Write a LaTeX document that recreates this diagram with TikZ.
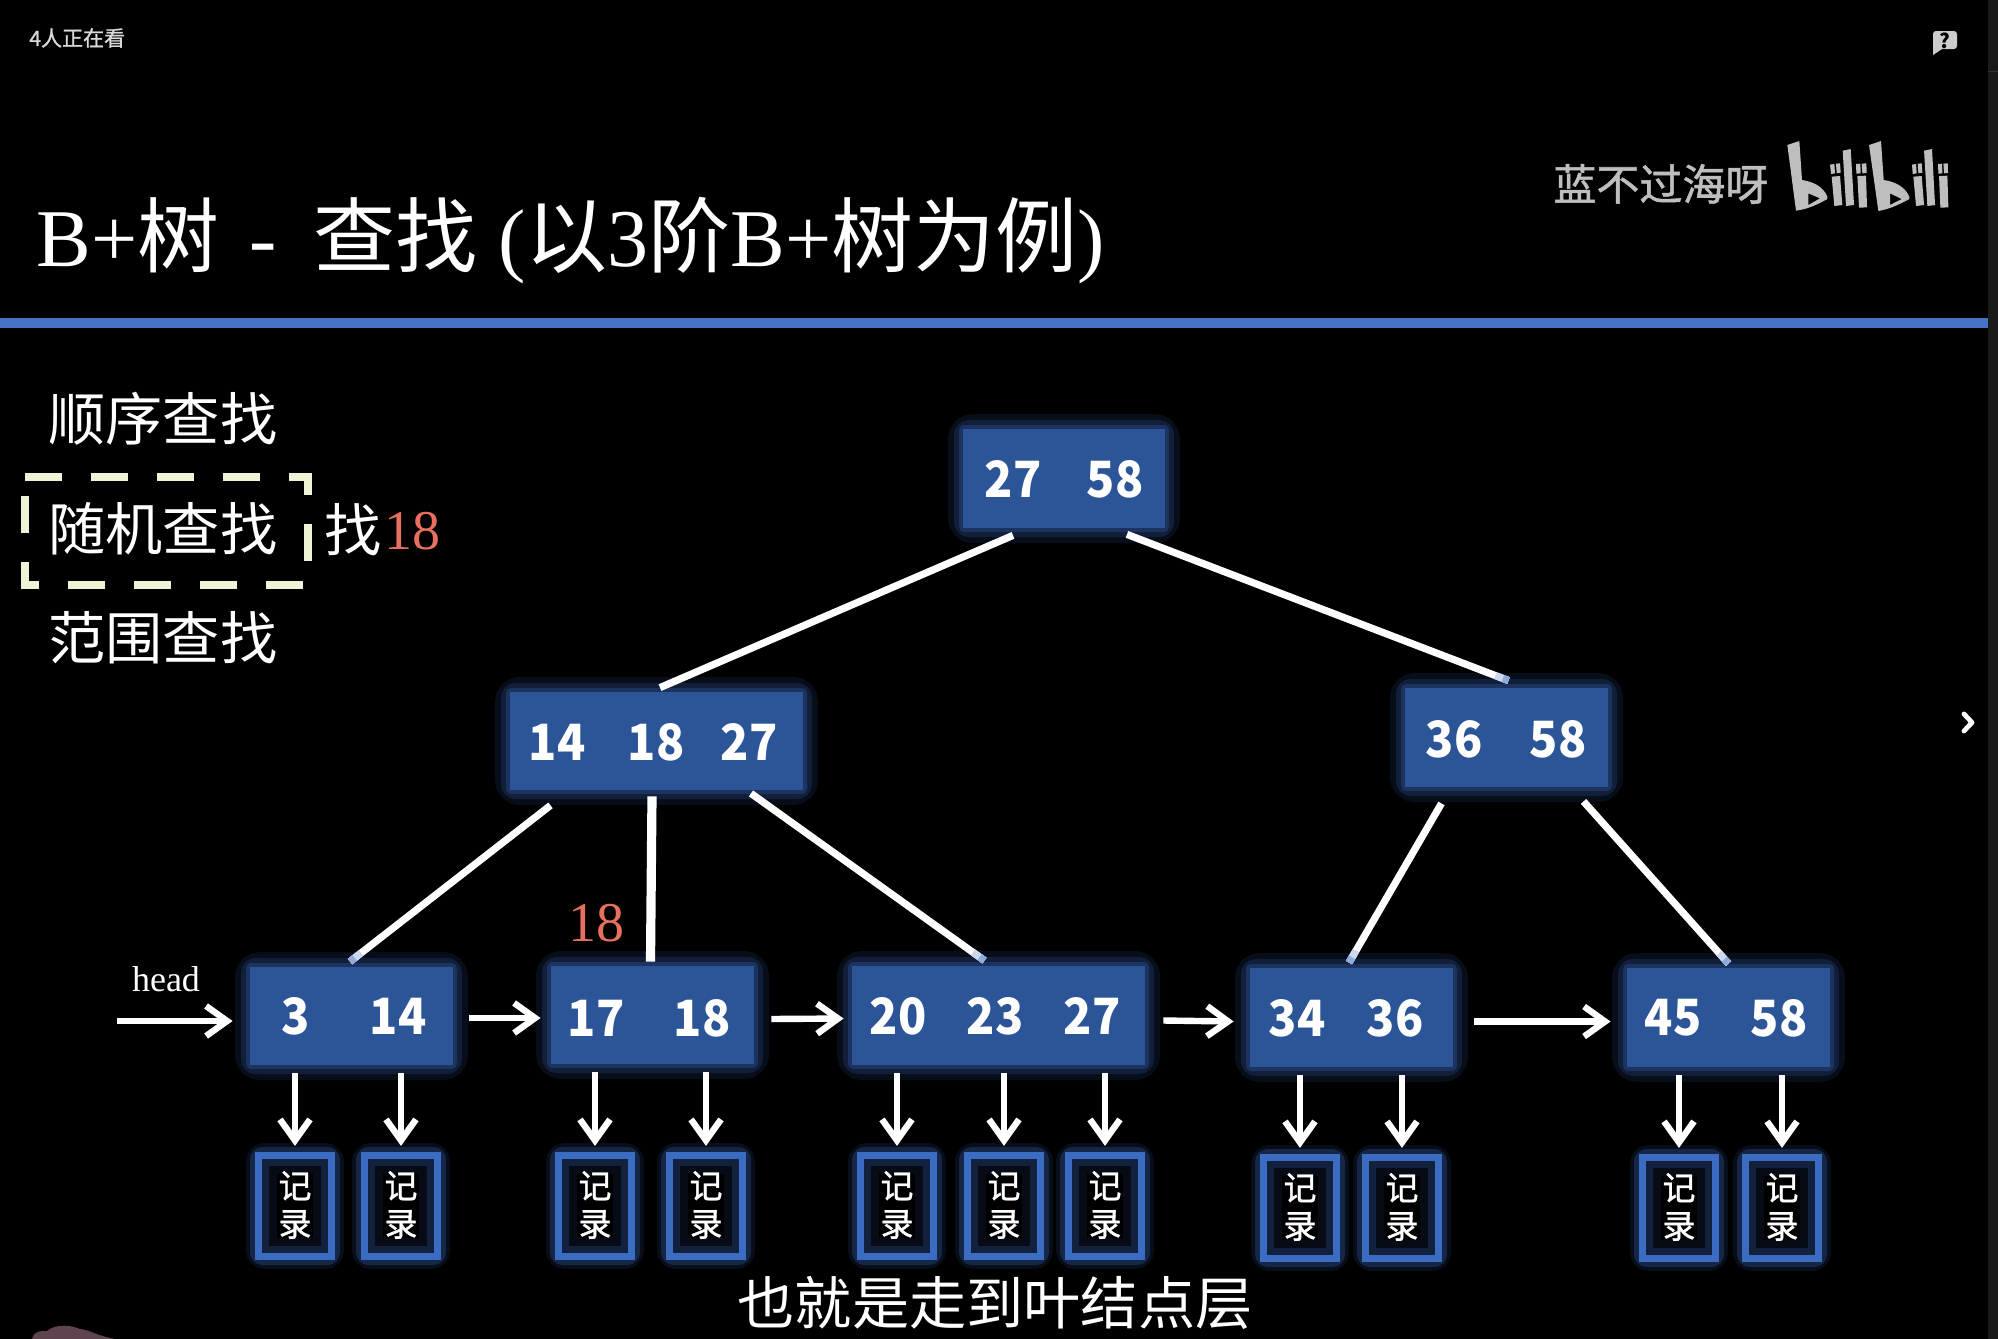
\documentclass[tikz,border=0pt]{standalone}
\usepackage{fontspec}
\setmainfont{Liberation Serif}
\newfontfamily\cjk{Noto Sans CJK SC}
\newfontfamily\cjkm[FakeBold=1.2]{Noto Sans CJK SC}
\newfontfamily\numf[BoldFeatures={FakeStretch=0.93}]{Noto Sans CJK SC}
\usetikzlibrary{calc,arrows.meta}
\definecolor{boxblue}{HTML}{2C5597}
\definecolor{glowblue}{HTML}{3F71D0}
\definecolor{recblue}{HTML}{3A6CC2}
\definecolor{linkblue}{HTML}{4472C4}
\definecolor{redtxt}{HTML}{E8705F}
\definecolor{dashy}{HTML}{F0F3D6}
\definecolor{wm}{HTML}{BEBEBE}
\definecolor{blobc}{HTML}{5F4450}
\tikzset{
  x=0.5pt,y=-0.5pt,
  glowa/.style={draw=glowblue,opacity=0.12,line width=15pt,rounded corners=5pt},
  glowb/.style={draw=glowblue,opacity=0.18,line width=9pt,rounded corners=3pt},
  glowc/.style={draw=glowblue,opacity=0.25,line width=4pt,rounded corners=1pt},
  recbox/.style={draw=recblue,line width=3.6pt,fill=black,inner sep=0,minimum width=36.5pt,minimum height=50.5pt},
  numtxt/.style={text=white,font=\numf\bfseries\fontsize{25}{25}\selectfont,inner sep=0},
  rectxt/.style={text=white,font=\cjkm\fontsize{16.5}{18}\selectfont,align=center,inner sep=0},
  treeline/.style={draw=white,line width=3.6pt},
  conn/.style={draw=white,line width=3.2pt,-{Straight Barb[length=10.5pt,width=15pt,line width=3.2pt]}},
  bigtxt/.style={text=white,font=\cjk\fontsize{28.6}{30}\selectfont,inner sep=0},
  redn/.style={text=redtxt,font=\fontsize{28}{30}\selectfont,inner sep=0},
}
% name, x1, y1, x2, y2
\newcommand{\tbox}[5]{%
  \path[glowa] (#2,#3) rectangle (#4,#5);
  \path[glowb] (#2,#3) rectangle (#4,#5);
  \path[glowc] (#2,#3) rectangle (#4,#5);
  \path[fill=boxblue] (#2,#3) rectangle (#4,#5);
  \coordinate (#1c) at ({(#2+#4)/2},{(#3+#5)/2});
  \node[inner sep=0,minimum width={(#4-#2)*0.5pt},minimum height={(#5-#3)*0.5pt}] (#1) at (#1c) {};
}
% name, cx, cy
\newcommand{\rbox}[3]{%
  \path[draw=glowblue,opacity=0.12,line width=11pt,rounded corners=4pt] (#2-38,#3-52) rectangle (#2+38,#3+52);
  \path[draw=glowblue,opacity=0.25,line width=7pt,rounded corners=3pt] (#2-38,#3-52) rectangle (#2+38,#3+52);
  \node[recbox] (#1) at (#2,#3) {};
  \path[draw=glowblue,opacity=0.22,line width=4pt] ($(#1.south west)+(10,-10)$) rectangle ($(#1.north east)+(-10,10)$);
  \path[draw=glowblue,opacity=0.10,line width=9pt] ($(#1.south west)+(13,-13)$) rectangle ($(#1.north east)+(-13,13)$);
  \node[rectxt] (#1t) at (#2,#3-1) {记\\[1pt]录};
}
% edge fading to pale blue at its lower end
\newcommand{\tedge}[2]{%
  \coordinate (ea) at (#1);
  \coordinate (eb) at (#2);
  \draw[treeline] (ea) -- (eb);
  \draw[treeline,draw=white!72!linkblue] ($(eb)!7pt!(ea)$) -- (eb);
  \draw[treeline,draw=white!40!linkblue] ($(eb)!3pt!(ea)$) -- (eb);
}
\begin{document}
\begin{tikzpicture}
\useasboundingbox (0,0) rectangle (1998,1339);
\fill[black] (0,0) rectangle (1998,1339);
% scrollbar
\fill[black!90!white] (1988,0) rectangle (1998,1339);
\draw[black!80!white,line width=0.5pt] (1988,71) -- (1998,71);
% blob
\fill[blobc] (32,1339) .. controls (34,1330) and (42,1331) .. (47,1331) .. controls (52,1326) and (66,1323) .. (80,1329) .. controls (90,1330) and (95,1335) .. (115,1339) -- cycle;
% chevron
\draw[white,line width=2.4pt,line cap=round,line join=round] (1964,714) -- (1972,722.5) -- (1964,731);
% top
\node[text=white!85!black,font=\cjkm\fontsize{10.5}{12}\selectfont,inner sep=0,anchor=west] (watch) at (29,38) {4人正在看};
\fill[rounded corners=1.5pt,fill=white!80!black] (1933,31) rectangle (1957,49);
\fill[white!80!black] (1933,45) -- (1933,55) -- (1942,49) -- cycle;
\node[text=black,font=\cjk\bfseries\fontsize{10}{10}\selectfont,inner sep=0] (help) at (1944.5,41) {?};
\node[text=wm,font=\cjkm\fontsize{21.5}{22}\selectfont,inner sep=0,anchor=west] (author) at (1553,184) {蓝不过海呀};
% bilibili logo
\begin{scope}[shift={(1780,130)},x=0.1667pt,y=-0.1667pt]
  \fill[wm,even odd rule] (22,45) -- (58,33) -- (66,150) .. controls (100,155) and (130,170) .. (142,200) -- (142,207) .. controls (110,225) and (80,238) .. (48,242) -- cycle
    (85,190) -- (85,225) -- (120,205) -- cycle;
  \fill[wm] (150,104) -- (163,102) -- (165,130) -- (153,132) -- cycle;
  \fill[wm] (168,101) -- (180,100) -- (182,128) -- (170,130) -- cycle;
  \fill[wm] (155,140) -- (180,138) -- (187,225) -- (163,228) -- cycle;
  \fill[wm] (188,62) -- (212,57) -- (222,225) -- (198,228) -- cycle;
  \fill[wm] (228,102) -- (241,101) -- (242,130) -- (229,131) -- cycle;
  \fill[wm] (245,101) -- (259,100) -- (260,129) -- (247,130) -- cycle;
  \fill[wm] (232,138) -- (258,137) -- (261,232) -- (237,233) -- cycle;
  \fill[wm,even odd rule] (267,45) -- (303,33) -- (311,150) .. controls (345,155) and (375,170) .. (388,200) -- (388,207) .. controls (355,225) and (325,238) .. (295,243) -- cycle
    (330,190) -- (330,225) -- (365,207) -- cycle;
  \fill[wm] (396,104) -- (408,102) -- (410,130) -- (398,132) -- cycle;
  \fill[wm] (413,101) -- (425,100) -- (427,128) -- (415,130) -- cycle;
  \fill[wm] (400,140) -- (425,138) -- (432,225) -- (408,228) -- cycle;
  \fill[wm] (432,62) -- (456,57) -- (465,225) -- (442,228) -- cycle;
  \fill[wm] (474,102) -- (486,101) -- (487,130) -- (475,131) -- cycle;
  \fill[wm] (490,101) -- (503,100) -- (504,129) -- (492,130) -- cycle;
  \fill[wm] (477,138) -- (502,137) -- (505,232) -- (481,233) -- cycle;
\end{scope}
% title
\node[text=white,font=\fontsize{41}{44}\selectfont,inner sep=0,anchor=west] (title) at (36,241)
 {B+{\cjk 树}\hspace{15pt}-\hspace{18.5pt}{\cjk 查找} ({\cjk 以}3{\cjk 阶}B+{\cjk 树为例})};
\fill[linkblue] (0,318) rectangle (1988,328);
% left labels
\node[bigtxt] (seq) at (163,419) {顺序查找};
\node[bigtxt] (rnd) at (163,529) {随机查找};
\node[bigtxt] (rng) at (163,638) {范围查找};
\node[bigtxt] (find) at (353,530) {找};
\node[redn,anchor=west] (red1) at (384,531) {18};
\draw[dashy,line width=4pt,dash pattern=on 18.5pt off 14.5pt] (25,477) -- (308,477) -- (308,585) -- (25,585) -- cycle;
% tree boxes
\tbox{root}{963}{429}{1165}{528}
\tbox{ln}{510}{692}{803}{790}
\tbox{rn}{1405}{688}{1608}{787}
\tbox{la}{250}{967}{453}{1065}
\tbox{lb}{551}{966}{754}{1064}
\tbox{lc}{852}{966}{1145}{1065}
\tbox{ld}{1250}{968}{1453}{1067}
\tbox{le}{1627}{968}{1830}{1067}
% numbers
\node[numtxt] (n1) at (1013,479) {27};
\node[numtxt] (n2) at (1115,479) {58};
\node[numtxt] (n3) at (557,742) {14};
\node[numtxt] (n4) at (656,742) {18};
\node[numtxt] (n5) at (749,742) {27};
\node[numtxt] (n6) at (1454,739) {36};
\node[numtxt] (n7) at (1558,739) {58};
\node[numtxt] (n8) at (296,1016) {3};
\node[numtxt] (n9) at (398,1016) {14};
\node[numtxt] (n10) at (596,1018) {17};
\node[numtxt] (n11) at (702,1018) {18};
\node[numtxt] (n12) at (898,1016) {20};
\node[numtxt] (n13) at (995,1016) {23};
\node[numtxt] (n14) at (1092,1016) {27};
\node[numtxt] (n15) at (1297,1018) {34};
\node[numtxt] (n16) at (1395,1018) {36};
\node[numtxt] (n17) at (1673,1018) {45};
\node[numtxt] (n18) at (1779,1018) {58};
% tree lines
\draw[treeline] ($(root.south)+(-51,7)$) -- ($(ln.north)+(3.5,-4)$);
\tedge{$(root.south)+(63,6)$}{$(rn.north)+(2,-7)$}
\tedge{$(ln.south)+(-106,15)$}{$(la.north)+(-1.5,-5)$}
\draw[treeline,line width=4.6pt] ($(ln.south)+(-4.5,6)$) -- ($(lb.north)+(-2,-4)$);
\tedge{$(ln.south)+(94.5,3)$}{$(lc.north)+(-14,-5)$}
\tedge{$(rn.south)+(-65,16)$}{$(ld.north)+(-2.5,-5)$}
\tedge{$(rn.south)+(77,14)$}{$(le.north)+(0,-4)$}
\node[redn] (red2) at (596,923) {18};
% head + links
\coordinate (hd) at (117,1021);
\node[text=white,font=\fontsize{18}{20}\selectfont,inner sep=0] (headl) at (166,979) {head};
\draw[conn] (hd) -- ($(la.west)+(-17,5)$);
\draw[conn] ($(la.east)+(16,2)$) -- ($(lb.west)+(-10,3)$);
\draw[conn] ($(lb.east)+(17,4)$) -- ($(lc.west)+(-8,3)$);
\draw[conn] ($(lc.east)+(18,5)$) -- ($(ld.west)+(-16,4)$);
\draw[conn] ($(ld.east)+(21,4)$) -- ($(le.west)+(-16,4)$);
% records
\rbox{r1}{295}{1206}
\rbox{r2}{401}{1206}
\rbox{r3}{595}{1206}
\rbox{r4}{706}{1206}
\rbox{r5}{897}{1206}
\rbox{r6}{1004}{1206}
\rbox{r7}{1105}{1206}
\rbox{r8}{1300}{1208}
\rbox{r9}{1402}{1208}
\rbox{r10}{1679}{1208}
\rbox{r11}{1782}{1208}
\foreach \b/\r in {la/r1,la/r2,lb/r3,lb/r4,lc/r5,lc/r6,lc/r7,ld/r8,ld/r9,le/r10,le/r11}{
  \draw[conn] (\b.south -| \r.north) ++(0,8) -- ($(\r.north)+(0,-6)$);
}
\node[bigtxt] (cap) at (995,1303) {也就是走到叶结点层};
\end{tikzpicture}
\end{document}
